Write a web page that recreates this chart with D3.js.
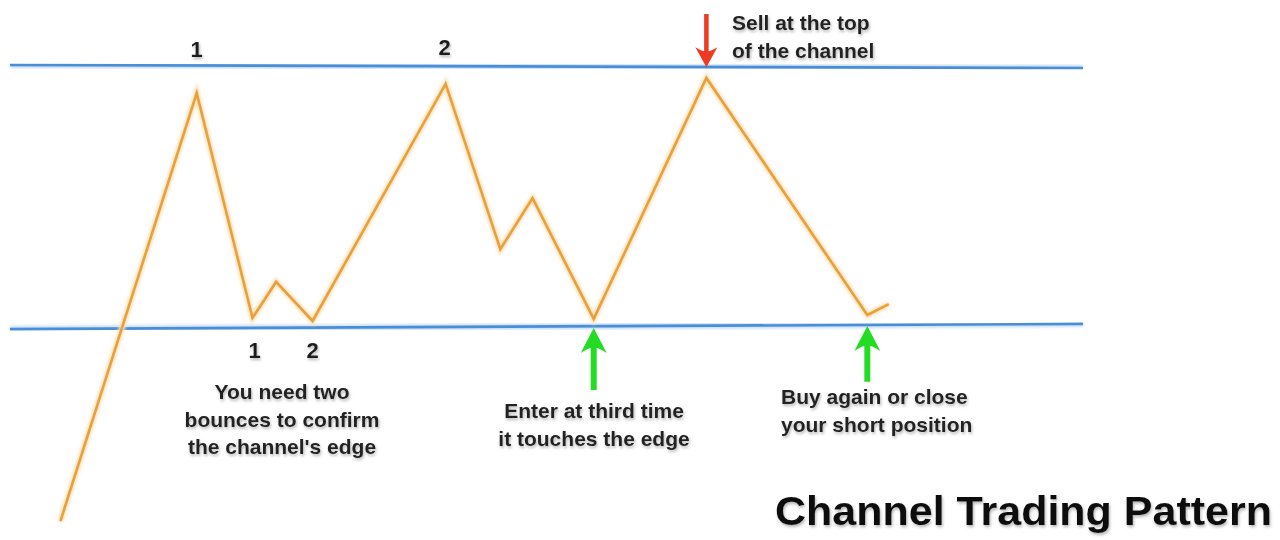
<!DOCTYPE html>
<html>
<head>
<meta charset="utf-8">
<script src="https://cdn.jsdelivr.net/npm/d3@7"></script>
<style>
  html, body { margin: 0; padding: 0; background: #fff; }
  svg { display: block; }
</style>
</head>
<body>
<svg id="chart"></svg>
<script>
const width = 1280;
const height = 540;

// price path (time units 0-100, price where 0 = channel bottom, 100 = channel top)
const priceT = [4.7, 17.4, 22.6, 24.8, 28.2, 40.6, 45.7, 48.7, 54.4, 64.9, 79.9, 81.9];
const priceV = [-74.5, 89.8, 3.5, 17.3, 2.3, 93.3, 29.9, 49.5, 3.1, 95.6, 4.6, 8.8];

// channel edges
const channelT = [0, 100];
const channelTop = [100.6, 99.4];
const channelBottom = [-0.8, 1.2];

// bounce labels
const bounceLabels = ["1", "2", "1", "2"];
const bounceT = [17.4, 40.5, 22.8, 28.2];
const bounceV = [103.5, 104.3, -11.8, -11.8];

// signal arrows: time, tip price, tail price
const arrowT = [64.9, 54.4, 79.9];
const arrowTip = [99.7, -0.4, 0.4];
const arrowTail = [120.2, -24.2, -21];
const arrowKind = ["sell", "buy", "buy"];

const notes = [
  ["Sell at the top", "of the channel"],
  ["You need two", "bounces to confirm", "the channel's edge"],
  ["Enter at third time", "it touches the edge"],
  ["Buy again or close", "your short position"]
];
const title = "Channel Trading Pattern";

const x = d3.scaleLinear().domain([0, 100]).range([10, 1083]);
const y = d3.scaleLinear().domain([0, 100]).range([327, 66.5]);

const svg = d3.select("#chart")
    .attr("width", width)
    .attr("height", height)
    .attr("viewBox", [0, 0, width, height])
    .style("font-family", "'Liberation Sans', Arial, Helvetica, sans-serif")
    .style("font-weight", "bold");

const defs = svg.append("defs");
defs.append("filter")
    .attr("id", "shadow")
    .attr("x", "-10%").attr("y", "-30%")
    .attr("width", "120%").attr("height", "160%")
  .append("feDropShadow")
    .attr("dx", 1).attr("dy", 2)
    .attr("stdDeviation", 1.4)
    .attr("flood-color", "#777")
    .attr("flood-opacity", 0.55);
defs.append("filter")
    .attr("id", "glow")
  .append("feGaussianBlur")
    .attr("stdDeviation", 1.5);

const line = d3.line().x(d => x(d[0])).y(d => y(d[1]));

// channel lines
const channels = [channelTop, channelBottom].map(vals => channelT.map((t, i) => [t, vals[i]]));
const chG = svg.append("g");
chG.selectAll("path.halo")
  .data(channels)
  .join("path")
    .attr("class", "halo")
    .attr("d", line)
    .attr("fill", "none")
    .attr("stroke", "#c3dcf5")
    .attr("stroke-width", 6)
    .attr("filter", "url(#glow)");
chG.selectAll("path.edge")
  .data(channels)
  .join("path")
    .attr("class", "edge")
    .attr("d", line)
    .attr("fill", "none")
    .attr("stroke", "#4a8ed8")
    .attr("stroke-width", 2.6);

// price line
const pricePts = priceT.map((t, i) => [t, priceV[i]]);
svg.append("path")
    .attr("d", line(pricePts))
    .attr("fill", "none")
    .attr("stroke", "#fae2bb")
    .attr("stroke-width", 6)
    .attr("stroke-linejoin", "miter")
    .attr("filter", "url(#glow)");
svg.append("path")
    .attr("d", line(pricePts))
    .attr("fill", "none")
    .attr("stroke", "#e9a03a")
    .attr("stroke-width", 2.6)
    .attr("stroke-linejoin", "miter");

// arrows
function arrowPath(px, tipY, tailY, shaft, headW, headL) {
  const dir = tailY > tipY ? 1 : -1;
  const hb = tipY + dir * headL;
  const notch = tipY + dir * headL * 0.8;
  return [
    "M", px, tipY,
    "L", px + headW / 2, hb,
    "Q", px + shaft / 2 + 2, notch, px + shaft / 2, notch,
    "L", px + shaft / 2, tailY,
    "L", px - shaft / 2, tailY,
    "L", px - shaft / 2, notch,
    "Q", px - shaft / 2 - 2, notch, px - headW / 2, hb,
    "Z"
  ].join(" ");
}
svg.append("g").selectAll("path")
  .data(arrowT.map((t, i) => ({t, tip: arrowTip[i], tail: arrowTail[i], kind: arrowKind[i]})))
  .join("path")
    .attr("d", d => d.kind === "sell"
      ? arrowPath(x(d.t), y(d.tip), y(d.tail), 4.5, 22, 20)
      : arrowPath(x(d.t), y(d.tip), y(d.tail), 6, 26, 25))
    .attr("fill", d => d.kind === "sell" ? "#ee3a22" : "#25dc25");

// bounce numbers
svg.append("g").selectAll("text")
  .data(bounceLabels.map((s, i) => ({s, t: bounceT[i], v: bounceV[i]})))
  .join("text")
    .attr("x", d => x(d.t))
    .attr("y", d => y(d.v))
    .attr("text-anchor", "middle")
    .attr("font-size", 22)
    .attr("fill", "#1c1c1c")
    .attr("filter", "url(#shadow)")
    .text(d => d.s);

// notes
const notePos = [
  {x: 732, y: 30, anchor: "start"},
  {x: 282, y: 399, anchor: "middle"},
  {x: 594, y: 418, anchor: "middle"},
  {x: 781, y: 404, anchor: "start"}
];
const lineGap = 27.5;
svg.append("g").selectAll("text")
  .data(notes)
  .join("text")
    .attr("x", (d, i) => notePos[i].x)
    .attr("y", (d, i) => notePos[i].y)
    .attr("text-anchor", (d, i) => notePos[i].anchor)
    .attr("font-size", 21)
    .attr("fill", "#222")
    .attr("filter", "url(#shadow)")
  .selectAll("tspan")
  .data((d, i) => d.map(s => ({s, i})))
  .join("tspan")
    .attr("x", d => notePos[d.i].x)
    .attr("dy", (d, j) => j === 0 ? 0 : lineGap)
    .text(d => d.s);

svg.append("text")
    .attr("x", 775)
    .attr("y", 525)
    .attr("font-size", 41)
    .attr("fill", "#111")
    .attr("textLength", 497)
    .attr("lengthAdjust", "spacingAndGlyphs")
    .attr("filter", "url(#shadow)")
    .text(title);
</script>
</body>
</html>
